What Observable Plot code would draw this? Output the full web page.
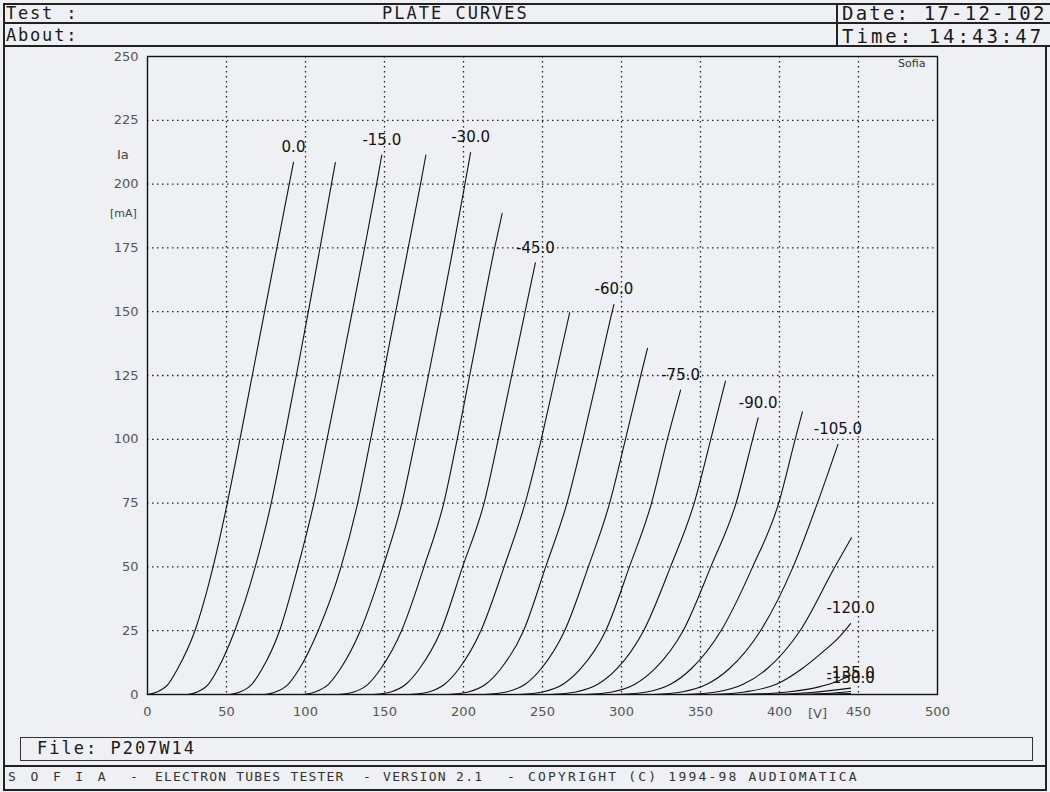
<!DOCTYPE html>
<html>
<head>
<meta charset="utf-8">
<script src="https://cdn.jsdelivr.net/npm/d3@7"></script>
<script src="https://cdn.jsdelivr.net/npm/@observablehq/plot@0.6"></script>
<style>
  html, body { margin: 0; padding: 0; background: #eef0f3; }
  #page { position: relative; width: 1050px; height: 792px; overflow: hidden; background: #eef0f3; }
  #chart { position: absolute; left: 0; top: 0; }
  .t { position: absolute; white-space: pre; color: #1a1a1a; line-height: 1; }
  .mono { font-family: "DejaVu Sans Mono", "Liberation Mono", monospace; }
  .sans { font-family: "DejaVu Sans", sans-serif; }
  .ln { position: absolute; background: #222; }
  .ft { position: absolute; white-space: pre; line-height: 1; top: 770px; font-size: 13px; color: #333;
        font-family: "DejaVu Sans Mono", "Liberation Mono", monospace; }
</style>
</head>
<body>
<div id="page">
  <div id="chart"></div>
  <!-- header frame -->
  <div class="ln" style="left:3px;top:3px;width:1047px;height:2px"></div>
  <div class="ln" style="left:3px;top:22px;width:1047px;height:1.5px"></div>
  <div class="ln" style="left:3px;top:45px;width:1047px;height:2px"></div>
  <div class="ln" style="left:836px;top:3px;width:1.5px;height:43px"></div>
  <div class="ln" style="left:3px;top:3px;width:2px;height:788px"></div>
  <div class="ln" style="left:1045px;top:45px;width:2px;height:746px"></div>
  <!-- footer frame -->
  <div style="position:absolute;left:20px;top:737px;width:1011px;height:22px;border:1.5px solid #333"></div>
  <div class="ln" style="left:3px;top:765px;width:1044px;height:2px"></div>
  <div class="ln" style="left:3px;top:789px;width:1044px;height:2px"></div>

  <div class="t mono" style="left:6px;top:5px;font-size:17px;letter-spacing:1.8px">Test :</div>
  <div class="t mono" style="left:6px;top:27px;font-size:17px;letter-spacing:1.8px">About:</div>
  <div class="t mono" style="left:382px;top:5px;font-size:17px;letter-spacing:2px">PLATE CURVES</div>
  <div class="t mono" style="left:842px;top:4px;font-size:19px;letter-spacing:2.2px">Date: 17-12-102</div>
  <div class="t mono" style="left:842px;top:27px;font-size:19px;letter-spacing:3px">Time: 14:43:47</div>
  <div class="t mono" style="left:37px;top:740px;font-size:17px;letter-spacing:2px">File: P207W14</div>

  <div class="ft" style="left:8px;letter-spacing:3.4px">S O F I A</div>
  <div class="ft" style="left:130px">-</div>
  <div class="ft" style="left:155px;letter-spacing:1.2px">ELECTRON TUBES TESTER</div>
  <div class="ft" style="left:363px">-</div>
  <div class="ft" style="left:383px;letter-spacing:1.3px">VERSION 2.1</div>
  <div class="ft" style="left:507px">-</div>
  <div class="ft" style="left:528px;letter-spacing:2.2px">COPYRIGHT (C) 1994-98 AUDIOMATICA</div>

  <div class="t sans" style="left:898px;top:58px;font-size:11px;color:#333">Sofia</div>
  <div class="t sans" style="left:117px;top:148px;font-size:13px;color:#444">Ia</div>
  <div class="t sans" style="left:110px;top:208px;font-size:11px;color:#444">[mA]</div>
  <div class="t sans" style="left:808px;top:707px;font-size:13px;color:#555">[V]</div>
</div>
<script>
// grid bias of each plate curve (V)
const gridBias = [0, -7.5, -15, -22.5, -30, -37.5, -45, -52.5, -60, -67.5, -75,
                  -82.5, -90, -97.5, -105, -112.5, -120, -127.5, -135, -142.5, -150];
// labelled curves
const labelBias = [0, -15, -30, -45, -60, -75, -90, -105, -120, -135, -150];

// plate voltage Va [V] along each curve
const curveVa = [
  [0, 6, 13, 19, 30, 41.5, 50.5, 58.5, 66.3, 74.1, 81.9, 89.7, 92.4],
  [25.5, 31.5, 38.5, 44.5, 55.2, 68.2, 78.3, 86.4, 94.2, 101.8, 109.2, 116.4, 118.9],
  [52, 58.5, 66, 72.5, 83.6, 95.2, 105.3, 113.6, 121.7, 129.6, 137.4, 145, 148.3],
  [74, 81, 89, 96, 108, 122.5, 133, 141.2, 149.2, 157.1, 165, 172.8, 176.2],
  [98, 106, 114.5, 122, 134.7, 149, 161, 169.6, 177.8, 185.8, 193.5, 200.9, 204.5],
  [121, 130.5, 139.5, 147.5, 160.8, 175, 187.5, 196, 203.9, 211.7, 219.7, 224.5],
  [143, 154, 163.5, 172, 185.7, 199.4, 213, 222, 230.5, 239, 245.5],
  [166, 178, 188, 197, 211, 225.7, 239, 249.2, 258.3, 267.2],
  [190, 203, 214, 223.5, 238, 252, 265.5, 275.6, 284.9, 294.1, 295.2],
  [213, 227, 239, 249, 264, 279, 292.5, 302.5, 312.2, 316.5],
  [235, 250, 263, 274, 290, 305, 319, 329, 337.4],
  [255, 271, 285, 297, 314, 331, 346, 356.5, 365.8],
  [277, 294, 308.5, 321, 339, 356.5, 372.5, 383, 386.5],
  [298, 316, 331, 344, 363, 383, 399.5, 409.9, 414.5],
  [320, 338, 354, 368, 388, 408.6, 424, 437],
  [340, 360, 377, 392, 413, 435, 445.5],
  [358, 378, 398, 414, 428, 437, 445],
  [375, 405, 425, 438, 445],
  [390, 420, 445],
  [405, 430, 445],
  [420, 445]
];
// plate current Ia [mA] along each curve
const curveIa = [
  [0, 1, 4, 10, 25, 50, 75, 100, 125, 150, 175, 200, 208.5],
  [0, 1, 4, 10, 25, 50, 75, 100, 125, 150, 175, 200, 208.4],
  [0, 1, 4, 10, 25, 50, 75, 100, 125, 150, 175, 200, 211.4],
  [0, 1, 4, 10, 25, 50, 75, 100, 125, 150, 175, 200, 211.4],
  [0, 1, 4, 10, 25, 50, 75, 100, 125, 150, 175, 200, 212.4],
  [0, 1, 4, 10, 25, 50, 75, 100, 125, 150, 175, 188.6],
  [0, 1, 4, 10, 25, 50, 75, 100, 125, 150, 169.2],
  [0, 1, 4, 10, 25, 50, 75, 100, 125, 149.6],
  [0, 1, 4, 10, 25, 50, 75, 100, 125, 150, 152.8],
  [0, 1, 4, 10, 25, 50, 75, 100, 125, 135.7],
  [0, 1, 4, 10, 25, 50, 75, 100, 119.3],
  [0, 1, 4, 10, 25, 50, 75, 100, 122.8],
  [0, 1, 4, 10, 25, 50, 75, 100, 108.4],
  [0, 1, 4, 10, 25, 50, 75, 100, 110.8],
  [0, 1, 4, 10, 25, 50, 75, 98],
  [0, 1, 4, 10, 25, 50, 61.4],
  [0, 1, 4, 10, 17, 22, 27.8],
  [0, 1, 3, 5.5, 7.5],
  [0, 0.8, 2.5],
  [0, 0.4, 1.2],
  [0, 0.4]
];

const xTicks = [0, 50, 100, 150, 200, 250, 300, 350, 400, 450, 500];
const yTicks = [0, 25, 50, 75, 100, 125, 150, 175, 200, 225, 250];

const rows = gridBias.flatMap((b, k) =>
  curveVa[k].map((v, j) => ({bias: b, v, i: curveIa[k][j]})));
const tops = gridBias
  .map((b, k) => ({bias: b, v: curveVa[k][curveVa[k].length - 1], i: curveIa[k][curveIa[k].length - 1]}))
  .filter(d => labelBias.includes(d.bias));

const chart = Plot.plot({
  width: 1050,
  height: 792,
  marginLeft: 147,
  marginRight: 113,
  marginTop: 56,
  marginBottom: 98,
  style: {background: "transparent", fontFamily: "DejaVu Sans, sans-serif", fontSize: "13px", color: "#555"},
  x: {domain: [0, 500], ticks: xTicks, tickSize: 0, tickPadding: 12, label: null, tickFormat: d => String(d)},
  y: {domain: [0, 250], ticks: yTicks, tickSize: 0, tickPadding: 9, label: null, tickFormat: d => String(d)},
  marks: [
    Plot.ruleX(xTicks.filter(d => d > 0 && d < 500), {stroke: "#222", strokeWidth: 1.3, strokeDasharray: "1.5,3.5"}),
    Plot.ruleY(yTicks.filter(d => d > 0 && d < 250), {stroke: "#222", strokeWidth: 1.3, strokeDasharray: "1.5,3.5"}),
    Plot.frame({stroke: "#111", strokeWidth: 1.4}),
    Plot.line(rows, {x: "v", y: "i", z: "bias", curve: "monotone-x", stroke: "#111", strokeWidth: 1.1}),
    Plot.text(tops, {x: "v", y: "i", text: d => d.bias.toFixed(1), dy: -15, fontSize: 15, fill: "#111"})
  ]
});
document.getElementById("chart").appendChild(chart);
</script>
</body>
</html>
